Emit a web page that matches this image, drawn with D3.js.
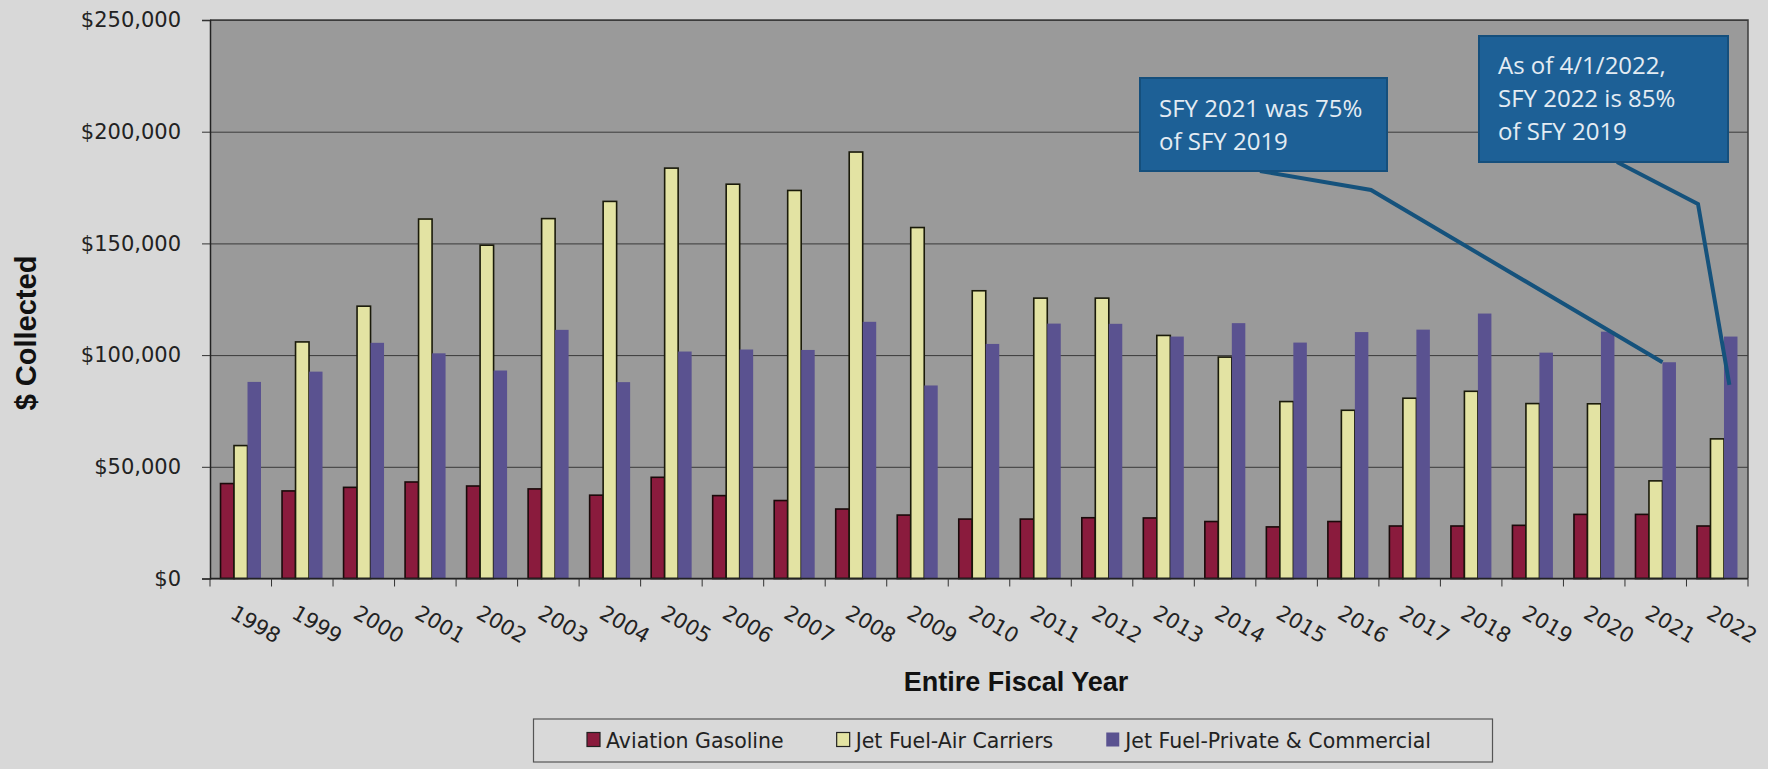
<!DOCTYPE html>
<html>
<head>
<meta charset="utf-8">
<script src="https://cdn.jsdelivr.net/npm/d3@7"></script>
<style>
    html, body { margin: 0; padding: 0; background: #d8d8d8; }
    svg { display: block; }
    .tick-label { font-family: "DejaVu Sans", Verdana, sans-serif; font-size: 21px; fill: #222; }
    .axis-title { font-family: "Liberation Sans", Arial, sans-serif; font-weight: bold; fill: #111; }
    .legend-text { font-family: "DejaVu Sans", Verdana, sans-serif; font-size: 20.5px; fill: #222; }
    .callout-text { font-family: "Open Sans", sans-serif; font-size: 24px; fill: #e4ecf3; }
</style>
</head>
<body>
<div id="chart"></div>
<script>

var years = ["1998", "1999", "2000", "2001", "2002", "2003", "2004", "2005", "2006",
    "2007", "2008", "2009", "2010", "2011", "2012", "2013", "2014", "2015", "2016",
    "2017", "2018", "2019", "2020", "2021", "2022"];

var aviationGasoline = [42500, 39200, 40800, 43200, 41400, 40100, 37300, 45300, 37100,
    34900, 31100, 28400, 26600, 26600, 27200, 27100, 25500, 23100, 25500,
    23500, 23500, 23800, 28700, 28700, 23500];

var jetFuelAirCarriers = [59500, 105900, 121900, 160900, 149200, 161100, 168800, 183700, 176500,
    173700, 190900, 157100, 128800, 125500, 125500, 108800, 99100, 79200, 75300,
    80700, 83800, 78300, 78200, 43700, 62500];

var jetFuelPrivate = [88000, 92600, 105500, 100800, 93100, 111300, 87900, 101600, 102500,
    102300, 114900, 86400, 105000, 114100, 114000, 108300, 114300, 105600, 110300,
    111400, 118600, 101100, 110500, 96800, 108300];

var seriesNames = ["Aviation Gasoline", "Jet Fuel-Air Carriers", "Jet Fuel-Private & Commercial"];
var yTicks = [0, 50000, 100000, 150000, 200000, 250000];

var calloutLines = [
    ["SFY 2021 was 75%", "of SFY 2019"],
    ["As of 4/1/2022,", "SFY 2022 is 85%", "of SFY 2019"]
];
// what each callout points at: year, series index, value
var calloutTargets = [
    { year: "2021", series: 2, value: 96800 },
    { year: "2022", series: 2, value: 86700 }
];

(function() {

    var colors = ["#8a1b3d", "#e3e3a3", "#5a5290"],
        strokes = ["#1a0a0a", "#1a1a0a", "none"];

    var outerWidth = 1768,
        outerHeight = 769,
        margins = { top: 20, right: 20, bottom: 190.5, left: 210 };

    var width = outerWidth - margins.left - margins.right,
        height = outerHeight - margins.top - margins.bottom;

    var series = [aviationGasoline, jetFuelAirCarriers, jetFuelPrivate];

    var svg = d3.select("#chart")
        .append("svg")
        .attr("width", outerWidth)
        .attr("height", outerHeight);

    svg.append("rect")
        .attr("width", outerWidth)
        .attr("height", outerHeight)
        .attr("fill", "#d8d8d8");

    var g = svg.append("g")
        .attr("transform", "translate(" + margins.left + "," + margins.top + ")");

    var x0 = d3.scaleBand().domain(years).range([0, width]).padding(0);
    var x1 = d3.scaleBand().domain(d3.range(series.length))
        .range([0, x0.bandwidth()]).paddingInner(0).paddingOuter(0.78);
    var y = d3.scaleLinear().domain([0, 250000]).range([height, 0]);

    // plot area
    g.append("rect")
        .attr("width", width)
        .attr("height", height)
        .attr("fill", "#9a9a9a");

    // gridlines
    g.append("g")
        .attr("class", "grid")
        .call(d3.axisLeft(y).tickValues(yTicks).tickSize(-width).tickFormat(""))
        .call(function(s) {
            s.select(".domain").remove();
            s.selectAll("line").attr("stroke", "#3a3a3a").attr("stroke-width", 1);
        });

    // bars
    var groups = g.selectAll(".year")
        .data(years)
        .enter().append("g")
        .attr("class", "year")
        .attr("transform", function(d) { return "translate(" + x0(d) + ",0)"; });

    groups.selectAll("rect")
        .data(function(d, i) {
            return series.map(function(s, k) { return { k: k, v: s[i] }; });
        })
        .enter().append("rect")
        .attr("x", function(d) { return x1(d.k); })
        .attr("width", x1.bandwidth())
        .attr("y", function(d) { return y(d.v); })
        .attr("height", function(d) { return height - y(d.v); })
        .attr("fill", function(d) { return colors[d.k]; })
        .attr("stroke", function(d) { return strokes[d.k]; })
        .attr("stroke-width", 1.6);

    // plot border (top/right)
    g.append("path")
        .attr("d", "M0,0H" + width + "V" + height)
        .attr("fill", "none")
        .attr("stroke", "#3c3c3c")
        .attr("stroke-width", 1.5);

    // y axis
    g.append("g")
        .call(d3.axisLeft(y).tickValues(yTicks).tickSize(8).tickPadding(21)
            .tickFormat(function(d) { return "$" + d3.format(",")(d); }))
        .call(function(s) {
            s.select(".domain").attr("stroke", "#222").attr("stroke-width", 1.5);
            s.selectAll(".tick line").attr("stroke", "#333");
            s.selectAll("text").attr("class", "tick-label").attr("font-size", null).attr("font-family", null);
        });

    // x axis: ticks between categories, labels rotated
    var xAxis = g.append("g").attr("transform", "translate(0," + height + ")");
    xAxis.append("line")
        .attr("x2", width)
        .attr("stroke", "#222")
        .attr("stroke-width", 1.5);
    xAxis.selectAll(".xtick")
        .data(years.concat(["end"]))
        .enter().append("line")
        .attr("x1", function(d) { return d === "end" ? width : x0(d); })
        .attr("x2", function(d) { return d === "end" ? width : x0(d); })
        .attr("y2", 8)
        .attr("stroke", "#333");
    xAxis.selectAll(".xlabel")
        .data(years)
        .enter().append("text")
        .attr("class", "tick-label")
        .attr("transform", function(d) {
            return "translate(" + (x0(d) + x0.bandwidth() / 2 - 4) + ",25) rotate(30)";
        })
        .attr("dy", "0.75em")
        .text(function(d) { return d; });

    // axis titles
    svg.append("text")
        .attr("class", "axis-title")
        .attr("font-size", 27)
        .attr("text-anchor", "middle")
        .attr("x", 1016)
        .attr("y", 691)
        .text("Entire Fiscal Year");

    svg.append("text")
        .attr("class", "axis-title")
        .attr("font-size", 29)
        .attr("text-anchor", "middle")
        .attr("transform", "translate(36,333) rotate(-90)")
        .text("$ Collected");

    // legend
    var legend = svg.append("g");
    legend.append("rect")
        .attr("x", 533.5).attr("y", 719)
        .attr("width", 959).attr("height", 43)
        .attr("fill", "#d9d9d9")
        .attr("stroke", "#555")
        .attr("stroke-width", 1.2);

    var items = legend.selectAll(".item")
        .data(seriesNames)
        .enter().append("g")
        .attr("class", "item");
    items.append("rect")
        .attr("width", 13).attr("height", 14)
        .attr("y", 732.5)
        .attr("fill", function(d, i) { return colors[i]; })
        .attr("stroke", function(d, i) { return i === 2 ? "none" : "#222"; })
        .attr("stroke-width", 1.2);
    items.append("text")
        .attr("class", "legend-text")
        .attr("x", 19)
        .attr("y", 747.5)
        .text(function(d) { return d; });

    var pos = 587;
    items.each(function() {
        var item = d3.select(this);
        item.attr("transform", "translate(" + pos + ",0)");
        pos += 19 + item.select("text").node().getComputedTextLength() + 53;
    });

    // callouts
    var boxes = [
        { x: 1140, y: 78, w: 247, h: 93, tx: 1159, ty: 117, root: [1260, 171], knee: [1371, 190], fx: 0 },
        { x: 1479, y: 36, w: 249, h: 126, tx: 1498, ty: 74, root: [1617, 162], knee: [1698, 204], fx: 0.4 }
    ];

    boxes.forEach(function(b, i) {
        var t = calloutTargets[i];
        var ex = margins.left + x0(t.year) + x1(t.series) + b.fx * x1.bandwidth(),
            ey = margins.top + y(t.value);

        svg.append("polyline")
            .attr("points", [b.root, b.knee, [ex, ey]].map(function(p) { return p.join(","); }).join(" "))
            .attr("fill", "none")
            .attr("stroke", "#15527c")
            .attr("stroke-width", 4);

        svg.append("rect")
            .attr("x", b.x).attr("y", b.y)
            .attr("width", b.w).attr("height", b.h)
            .attr("fill", "#1d6096")
            .attr("stroke", "#154f7c")
            .attr("stroke-width", 2);

        svg.append("text")
            .attr("class", "callout-text")
            .selectAll("tspan")
            .data(calloutLines[i])
            .enter().append("tspan")
            .attr("x", b.tx)
            .attr("y", function(d, j) { return b.ty + j * 33; })
            .text(function(d) { return d; });
    });

})();
</script>
</body>
</html>
